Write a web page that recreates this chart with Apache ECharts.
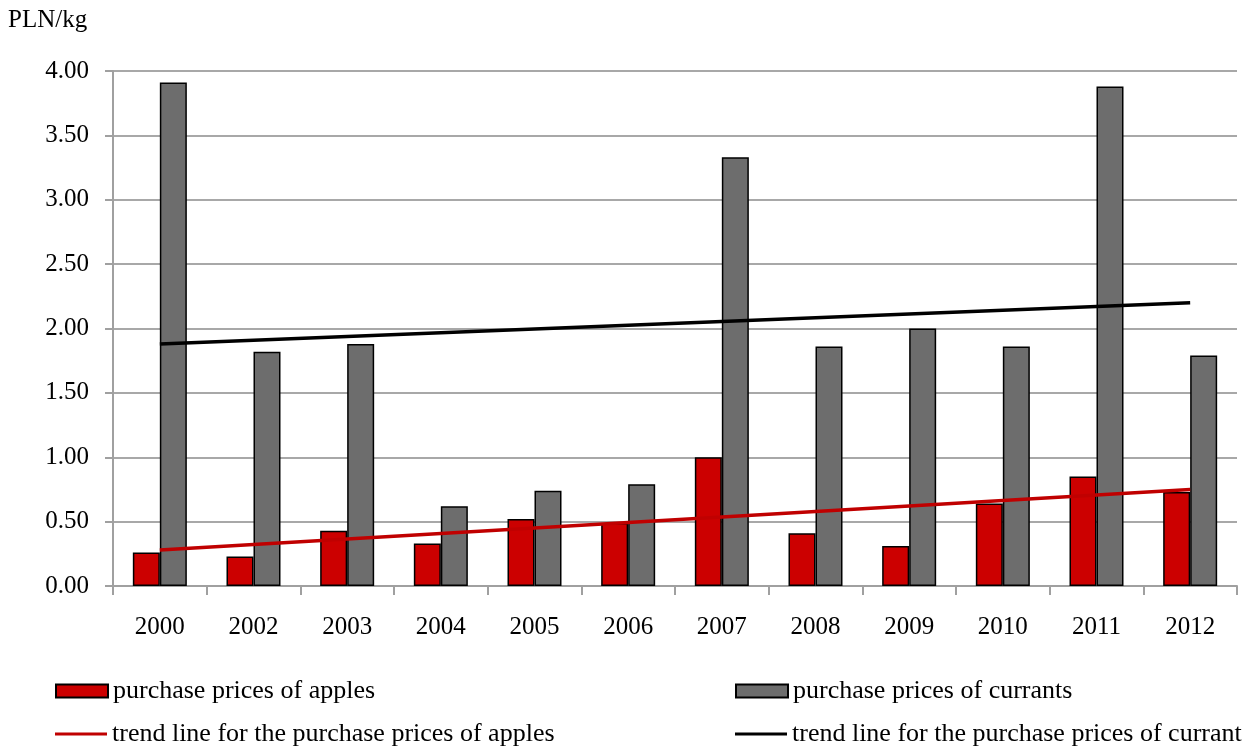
<!DOCTYPE html>
<html>
<head>
<meta charset="utf-8">
<style>html,body{margin:0;padding:0;background:#fff;}#c{width:1257px;height:747px;}</style>
<script src="https://cdn.jsdelivr.net/npm/echarts@6/dist/echarts.min.js"></script>
</head>
<body>
<div id="c"></div>
<script>
const categories = ['2000','2002','2003','2004','2005','2006','2007','2008','2009','2010','2011','2012'];
const apples   = [0.26, 0.23, 0.43, 0.33, 0.52, 0.49, 1.00, 0.41, 0.31, 0.64, 0.85, 0.73];
const currants = [3.91, 1.82, 1.88, 0.62, 0.74, 0.79, 3.33, 1.86, 2.00, 1.86, 3.88, 1.79];
// trend line endpoints (first and last category)
const appleTrend   = [0.28, null, null, null, null, null, null, null, null, null, null, 0.75];
const currantTrend = [1.88, null, null, null, null, null, null, null, null, null, null, 2.20];
const names = ['purchase prices of apples', 'purchase prices of currants',
  'trend line for the purchase prices of apples', 'trend line for the purchase prices of currant'];

const font = '"Liberation Serif", "Times New Roman", serif';
const chart = echarts.init(document.getElementById('c'), null, {renderer: 'canvas'});
const legendBase = {
  itemWidth: 52, itemHeight: 13, orient: 'horizontal', padding: 0, icon: 'rect',
  textStyle: {fontFamily: font, fontSize: 26, color: '#000'}
};
chart.setOption({
  animation: false,
  backgroundColor: '#fff',
  textStyle: {fontFamily: font},
  graphic: [{type: 'text', left: 8, top: 8, style: {text: 'PLN/kg', font: '25px ' + font, fill: '#000'}}],
  legend: [
    Object.assign({}, legendBase, {left: 55, top: 678, data: [names[0]]}),
    Object.assign({}, legendBase, {left: 735, top: 678, data: [names[1]]}),
    Object.assign({}, legendBase, {left: 55, top: 721, itemHeight: 3, data: [names[2]]}),
    Object.assign({}, legendBase, {left: 735, top: 721, itemHeight: 3, data: [names[3]]})
  ],
  grid: {left: 113, right: 20, top: 71, bottom: 161, containLabel: false},
  xAxis: {
    type: 'category', data: categories, boundaryGap: true,
    axisLine: {lineStyle: {color: '#a0a0a0', width: 2}},
    axisTick: {show: true, alignWithLabel: false, length: 9, inside: false, lineStyle: {color: '#a0a0a0', width: 2}},
    axisLabel: {fontFamily: font, fontSize: 25, color: '#000', margin: 29}
  },
  yAxis: {
    type: 'value', min: 0, max: 4, interval: 0.5,
    axisLine: {show: true, lineStyle: {color: '#a0a0a0', width: 2}},
    axisTick: {show: true, length: 8, lineStyle: {color: '#a0a0a0', width: 2}},
    splitLine: {lineStyle: {color: '#a8a8a8', width: 2}},
    axisLabel: {fontFamily: font, fontSize: 25, color: '#000', margin: 24,
      formatter: v => v.toFixed(2)}
  },
  series: [
    {name: names[0], type: 'bar', data: apples, barWidth: 27, barGap: '0%',
      itemStyle: {color: '#cc0000', borderColor: '#000', borderWidth: 1.5}},
    {name: names[1], type: 'bar', data: currants, barWidth: 27, barGap: '0%',
      itemStyle: {color: '#6d6d6d', borderColor: '#000', borderWidth: 1.5}},
    {name: names[2], type: 'line', data: appleTrend, connectNulls: true, symbol: 'none', z: 5,
      lineStyle: {color: '#c00000', width: 3.5}, itemStyle: {color: '#c00000', borderWidth: 0}},
    {name: names[3], type: 'line', data: currantTrend, connectNulls: true, symbol: 'none', z: 5,
      lineStyle: {color: '#000', width: 3.5}, itemStyle: {color: '#000', borderWidth: 0}}
  ]
});
</script>
</body>
</html>
